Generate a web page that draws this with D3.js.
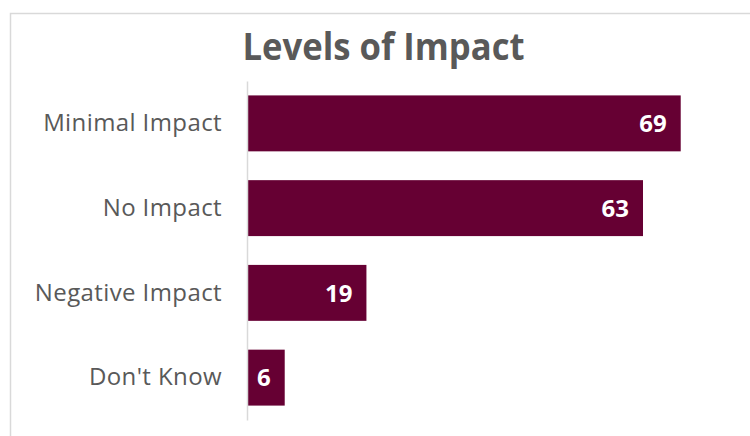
<!DOCTYPE html>
<html>
<head>
<meta charset="utf-8">
<script src="https://cdn.jsdelivr.net/npm/d3@7"></script>
<style>
  html, body { margin: 0; padding: 0; background: #ffffff; }
  svg { display: block; }
</style>
</head>
<body>
<svg id="chart" width="750" height="436"></svg>
<script>
// Survey responses: how respondents rated the impact
const categories = ["Minimal Impact", "No Impact", "Negative Impact", "Don't Know"];
const counts = [69, 63, 19, 6];
const xTicks = [0, 70];
const chartTitle = "Levels of Impact";

const svg = d3.select("#chart");

const barColor = "#660033";
const textGray = "#595959";
const lineGray = "#d9d9d9";

// chart frame (extends past the right and bottom edges)
svg.append("rect")
  .attr("x", 10.5).attr("y", 13.5)
  .attr("width", 746).attr("height", 440)
  .attr("fill", "#ffffff")
  .attr("stroke", lineGray)
  .attr("stroke-width", 1.5);

const x = d3.scaleLinear().domain(d3.extent(xTicks)).range([247, 687]);
const y = d3.scaleBand().domain(categories).range([81, 420])
  .paddingInner(0.34).paddingOuter(0.17);

// title
svg.append("text")
  .attr("x", 383.5).attr("y", 60)
  .attr("text-anchor", "middle")
  .attr("font-family", "'Open Sans', sans-serif")
  .attr("font-weight", "bold")
  .attr("font-size", 37)
  .attr("fill", textGray)
  .attr("textLength", 282)
  .attr("lengthAdjust", "spacingAndGlyphs")
  .text(chartTitle);

// bars
svg.append("g").selectAll("rect")
  .data(categories)
  .join("rect")
  .attr("x", x(0))
  .attr("y", d => y(d))
  .attr("width", (d, i) => x(counts[i]) - x(0))
  .attr("height", y.bandwidth())
  .attr("fill", barColor);

// category axis
const yAxis = d3.axisLeft(y).tickSize(0).tickPadding(25);
const ax = svg.append("g")
  .attr("transform", `translate(${x(0)},0)`)
  .call(yAxis);
ax.select(".domain").attr("stroke", lineGray).attr("stroke-width", 1.5);
ax.selectAll("text")
  .attr("font-family", "'Open Sans', sans-serif")
  .attr("font-size", 24)
  .attr("letter-spacing", "0.4px")
  .attr("fill", textGray);

// value labels inside bar ends
svg.append("g").selectAll("text")
  .data(categories)
  .join("text")
  .attr("x", (d, i) => x(counts[i]) - 14)
  .attr("y", d => y(d) + y.bandwidth() / 2)
  .attr("dy", "0.36em")
  .attr("text-anchor", "end")
  .attr("font-family", "'Open Sans', sans-serif")
  .attr("font-weight", "bold")
  .attr("font-size", 24)
  .attr("fill", "#ffffff")
  .text((d, i) => counts[i]);
</script>
</body>
</html>
